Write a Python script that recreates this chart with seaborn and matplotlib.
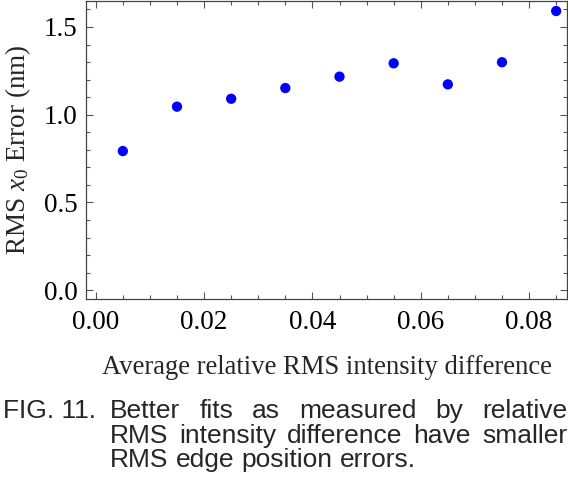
import matplotlib
matplotlib.use("Agg")
import matplotlib.pyplot as plt
import seaborn as sns
import pandas as pd
from matplotlib.ticker import MultipleLocator

# ---- data ----
rel_rms_diff = [0.005, 0.015, 0.025, 0.035, 0.045, 0.055, 0.065, 0.075, 0.085]
rms_x0_error = [0.793, 1.046, 1.091, 1.152, 1.217, 1.293, 1.173, 1.299, 1.591]
x_label = "Average relative RMS intensity difference"
y_label = r"RMS $x_0$ Error (nm)"
caption_label = "FIG. 11."
caption_lines = [
    "Better fits as measured by relative",
    "RMS intensity difference have smaller",
    "RMS edge position errors.",
]

df = pd.DataFrame({"x": rel_rms_diff, "y": rms_x0_error})

sns.set_style("white")
plt.rcParams["font.family"] = ["Liberation Serif", "DejaVu Serif"]
plt.rcParams["mathtext.fontset"] = "custom"
plt.rcParams["mathtext.rm"] = "Liberation Serif"
plt.rcParams["mathtext.it"] = "Liberation Serif:italic"

W, H = 568, 480
fig = plt.figure(figsize=(W / 100, H / 100), dpi=100)
ax = fig.add_axes([86 / W, 1 - 299 / H, (567 - 86) / W, (299 - 1) / H])

sns.scatterplot(data=df, x="x", y="y", ax=ax, color="#0000ff", s=55,
                edgecolor="none", linewidth=0, legend=False, zorder=3)

ax.set_xlim(-0.0018, 0.087)
ax.set_ylim(-0.05, 1.648)
ax.xaxis.set_major_locator(MultipleLocator(0.02))
ax.xaxis.set_minor_locator(MultipleLocator(0.005))
ax.yaxis.set_major_locator(MultipleLocator(0.5))
ax.yaxis.set_minor_locator(MultipleLocator(0.1))
ax.xaxis.set_major_formatter(matplotlib.ticker.FormatStrFormatter("%.2f"))
ax.yaxis.set_major_formatter(matplotlib.ticker.FormatStrFormatter("%.1f"))

tick_col = "#555555"
ax.tick_params(which="both", direction="in", top=True, right=True,
               bottom=True, left=True, color=tick_col, width=0.8,
               labelsize=19.5, labelcolor="black")
ax.tick_params(which="major", length=5)
ax.tick_params(which="minor", length=3)
ax.tick_params(axis="x", which="major", pad=8)
ax.tick_params(axis="y", which="major", pad=6)
for sp in ax.spines.values():
    sp.set_color("#444444")
    sp.set_linewidth(0.9)

ax.set_xlabel(x_label, fontsize=19.2, labelpad=14)
ax.set_ylabel(y_label, fontsize=19.5, labelpad=8)

# ---- caption (justified like the source) ----
cap_font = dict(family=["Liberation Sans", "DejaVu Sans"], fontsize=19)
renderer = fig.canvas.get_renderer()
baselines = [418.3, 443.3, 467.3]
body_left, body_right = 110, 567

fig.text(3 / W, 1 - baselines[0] / H, caption_label, va="baseline", ha="left", **cap_font)

def word_width(w):
    t = fig.text(0, 0, w, **cap_font)
    bb = t.get_window_extent(renderer=renderer)
    t.remove()
    return bb.width

space_w = word_width("a b") - word_width("ab")
for i, line in enumerate(caption_lines):
    words = line.split()
    widths = [word_width(w) for w in words]
    justify = i < len(caption_lines) - 1
    if justify and len(words) > 1:
        gap = (body_right - body_left - sum(widths)) / (len(words) - 1)
    else:
        gap = space_w
    xpos = body_left
    for w, wd in zip(words, widths):
        fig.text(xpos / W, 1 - baselines[i] / H, w, va="baseline", ha="left", **cap_font)
        xpos += wd + gap

fig.savefig("out.png", dpi=100)
